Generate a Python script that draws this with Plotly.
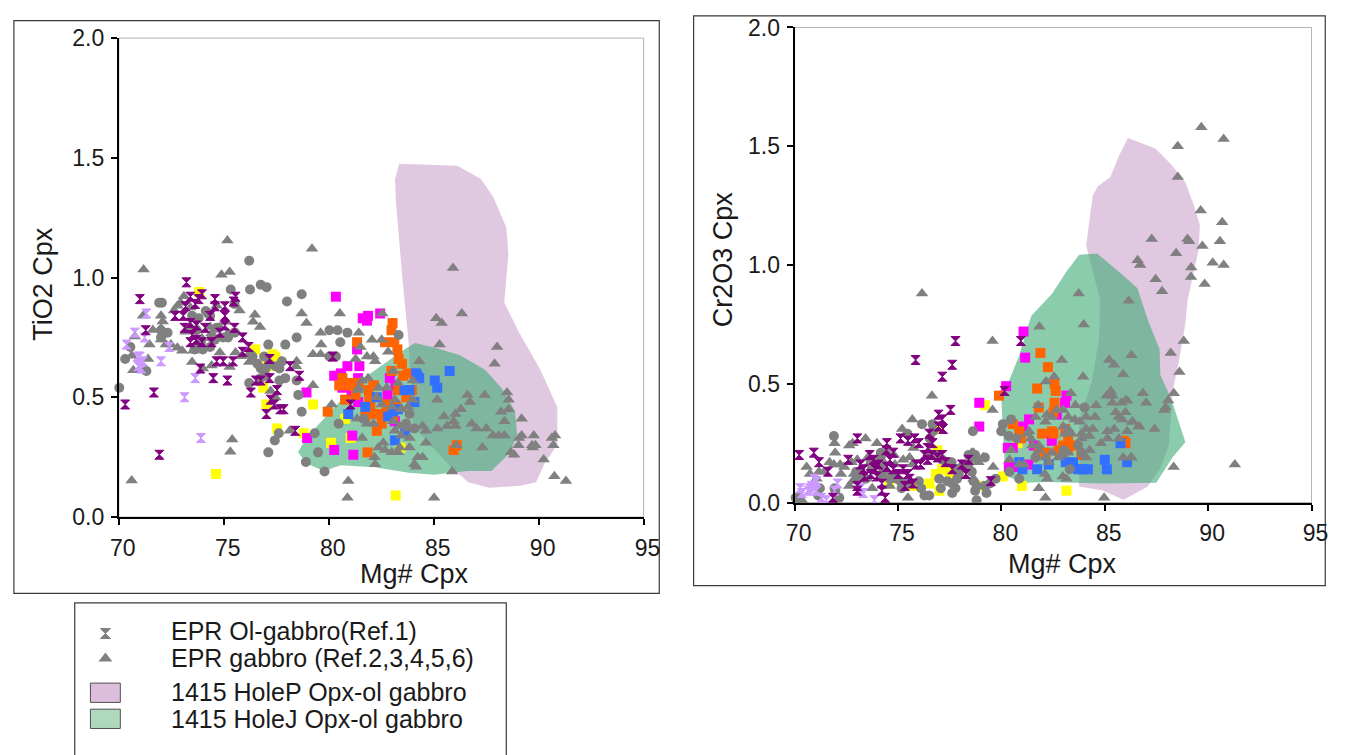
import plotly.graph_objects as go

W, H = 1356, 755

# ---------------- TiO2 vs Mg# (left panel) ----------------
tio2_gabbro = [
    (75.17, 1.155), (71.18, 1.034), (74.89, 1.012), (75.28, 1.023), (73.10, 0.922), (72.94, 0.895),
    (72.79, 0.882), (73.41, 0.875), (72.63, 0.862), (71.15, 0.841), (72.01, 0.841), (72.09, 0.817),
    (71.62, 0.781), (72.01, 0.788), (71.46, 0.720), (72.01, 0.741), (72.24, 0.720), (72.48, 0.720),
    (72.79, 0.707), (73.02, 0.694), (70.76, 0.754), (70.61, 0.673), (71.39, 0.660), (70.69, 0.613),
    (73.41, 0.794), (73.18, 0.774), (73.72, 0.788), (73.96, 0.747), (74.35, 0.794), (74.42, 0.767),
    (74.66, 0.882), (74.81, 0.794), (75.12, 0.815), (75.20, 0.767), (75.62, 0.770), (75.75, 0.862),
    (73.54, 0.694), (73.49, 0.647), (74.00, 0.620), (74.42, 0.633), (74.81, 0.687), (75.28, 0.626),
    (75.56, 0.687), (75.83, 0.671), (76.21, 0.647), (76.48, 0.845), (76.40, 0.815), (76.73, 0.794),
    (77.23, 0.526), (77.46, 0.499), (75.40, 0.324), (75.31, 0.273), (70.61, 0.152), (77.73, 0.650),
    (78.14, 0.360),
    (79.20, 1.12), (78.71, 0.85), (78.94, 0.81), (80.53, 0.85), (79.61, 0.77), (79.64, 0.72),
    (79.25, 0.68), (79.61, 0.68), (78.47, 0.65), (78.44, 0.63), (79.25, 0.55), (80.14, 0.47),
    (81.43, 0.77), (82.06, 0.74), (82.52, 0.74), (81.51, 0.71), (81.28, 0.66), (81.82, 0.67),
    (82.13, 0.67), (82.21, 0.65), (82.83, 0.69), (84.31, 0.65), (85.12, 0.83), (85.28, 0.72),
    (85.17, 0.49), (81.87, 0.58), (81.59, 0.57), (82.37, 0.54), (82.76, 0.54), (83.07, 0.61),
    (83.30, 0.56), (84.00, 0.57), (84.00, 0.49), (81.43, 0.54), (81.40, 0.53), (82.29, 0.50),
    (83.15, 0.49), (82.52, 0.47), (83.00, 0.46), (83.46, 0.45), (83.77, 0.46), (81.35, 0.41),
    (81.82, 0.39), (82.13, 0.39), (83.07, 0.40), (83.38, 0.38), (83.77, 0.37), (83.15, 0.36),
    (83.46, 0.34), (83.85, 0.33), (84.47, 0.38), (84.63, 0.36), (85.17, 0.37), (81.59, 0.33),
    (82.37, 0.29), (82.60, 0.31), (82.68, 0.28), (83.38, 0.29), (83.30, 0.27), (83.85, 0.29),
    (84.24, 0.25), (84.47, 0.25), (84.08, 0.22), (84.16, 0.21), (82.18, 0.25), (82.21, 0.22),
    (83.00, 0.27), (80.93, 0.15), (80.89, 0.08), (85.02, 0.08), (84.63, 0.31), (82.55, 0.85),
    (85.92, 1.04), (86.34, 0.85), (85.38, 0.81), (88.02, 0.71), (87.90, 0.64), (86.61, 0.51),
    (86.73, 0.48), (87.43, 0.51), (88.49, 0.52), (88.57, 0.49), (88.21, 0.44), (88.57, 0.45),
    (88.37, 0.40), (89.19, 0.41), (86.30, 0.45), (86.03, 0.43), (85.49, 0.42), (85.95, 0.40),
    (85.64, 0.38), (86.03, 0.38), (86.81, 0.39), (87.04, 0.37), (87.51, 0.37), (87.82, 0.34),
    (88.10, 0.34), (88.37, 0.34), (89.07, 0.33), (89.19, 0.34), (89.77, 0.34), (87.32, 0.29),
    (89.04, 0.30), (89.69, 0.30), (89.85, 0.30), (89.72, 0.29), (88.68, 0.27), (88.83, 0.26),
    (90.63, 0.33), (90.78, 0.34), (90.70, 0.30), (90.24, 0.24), (90.75, 0.17), (91.30, 0.15),
    (85.88, 0.19), (86.08, 0.30),
]
tio2_circle = [
    (76.21, 1.07), (76.76, 0.97), (77.04, 0.96), (76.25, 0.95), (75.33, 0.95), (78.01, 0.90),
    (71.92, 0.895), (72.05, 0.895), (75.51, 0.89), (74.24, 0.85), (72.32, 0.77), (72.01, 0.78),
    (72.01, 0.75), (75.51, 0.77), (75.20, 0.75), (74.42, 0.75), (74.66, 0.79), (73.69, 0.78),
    (73.80, 0.83), (73.49, 0.84), (74.14, 0.86), (74.35, 0.84), (73.91, 0.73), (73.61, 0.70),
    (74.00, 0.70), (74.35, 0.71), (74.58, 0.74), (74.97, 0.75), (70.55, 0.71), (70.30, 0.66),
    (71.31, 0.61), (70.02, 0.54), (76.26, 0.68), (76.37, 0.67), (76.92, 0.67), (77.12, 0.72),
    (77.93, 0.72), (76.60, 0.64), (76.76, 0.62), (76.99, 0.62), (77.15, 0.64), (77.46, 0.63),
    (77.65, 0.62), (77.77, 0.65), (76.21, 0.56), (76.76, 0.58), (76.99, 0.59), (77.65, 0.57),
    (77.93, 0.58), (77.62, 0.35), (77.43, 0.32), (77.12, 0.27),
    (78.71, 0.93), (80.03, 0.78), (80.42, 0.78), (80.89, 0.77), (80.55, 0.73), (83.33, 0.76),
    (78.47, 0.75), (78.47, 0.57), (78.55, 0.51), (78.71, 0.44), (80.03, 0.67), (80.34, 0.67),
    (80.47, 0.39), (79.33, 0.35), (79.49, 0.27), (78.91, 0.23), (79.80, 0.19), (81.67, 0.41),
    (83.85, 0.43), (84.08, 0.37), (83.69, 0.39),
]
tio2_olgabbro = [
    (71.00, 0.91), (73.22, 0.98), (73.96, 0.93), (71.28, 0.78), (70.30, 0.47), (71.67, 0.52),
    (71.93, 0.26), (72.68, 0.84), (73.07, 0.84), (73.13, 0.79), (73.41, 0.81), (73.64, 0.89),
    (73.80, 0.91), (73.41, 0.92), (73.49, 0.76), (73.69, 0.74), (73.41, 0.73), (73.96, 0.73),
    (74.11, 0.79), (74.58, 0.91), (74.58, 0.88), (75.05, 0.88), (75.05, 0.84), (75.05, 0.80),
    (75.56, 0.92), (75.47, 0.90), (75.51, 0.79), (74.42, 0.73), (74.66, 0.65), (74.97, 0.65),
    (74.50, 0.58), (75.17, 0.57), (75.44, 0.65), (75.90, 0.75), (76.18, 0.71), (75.90, 0.69),
    (73.88, 0.62), (77.18, 0.66), (76.53, 0.57), (76.76, 0.57), (77.18, 0.58), (77.23, 0.49),
    (77.54, 0.53), (77.03, 0.43), (76.29, 0.52), (77.69, 0.45), (77.85, 0.45), (74.35, 0.84),
    (74.81, 0.77), (73.69, 0.80), (73.18, 0.88), (78.16, 0.63), (78.60, 0.59), (81.04, 0.47),
    (78.40, 0.36), (77.40, 0.47), (80.19, 0.67),
]
tio2_olgabbro_light = [
    (71.31, 0.85), (70.76, 0.77), (70.37, 0.72), (71.23, 0.75), (71.00, 0.67), (71.15, 0.65),
    (70.92, 0.63), (71.07, 0.62), (70.89, 0.67), (72.01, 0.65), (73.13, 0.50), (73.64, 0.58),
    (73.91, 0.33), (72.40, 0.71),
]
tio2_yellow = [
    (73.83, 0.94), (76.50, 0.70), (77.31, 0.68), (77.46, 0.67), (77.07, 0.65), (76.88, 0.54),
    (77.03, 0.47), (77.54, 0.37), (74.63, 0.18), (79.25, 0.47), (80.78, 0.41), (80.11, 0.31),
    (78.81, 0.35), (81.04, 0.33), (83.19, 0.09), (83.42, 0.29), (77.33, 0.63),
]
tio2_magenta = [
    (80.34, 0.92), (81.62, 0.83), (81.87, 0.84), (81.82, 0.82), (82.45, 0.85), (81.35, 0.70),
    (80.89, 0.63), (81.46, 0.63), (80.26, 0.59), (80.58, 0.60), (80.65, 0.54), (81.09, 0.52),
    (81.40, 0.58), (81.40, 0.48), (78.94, 0.52), (82.91, 0.58), (82.80, 0.51), (83.18, 0.55),
    (81.12, 0.34), (80.26, 0.28), (81.17, 0.26), (78.97, 0.33), (83.15, 0.40),
]
tio2_orange = [
    (83.04, 0.81), (82.99, 0.78), (82.68, 0.73), (83.12, 0.73), (83.27, 0.70), (83.33, 0.66),
    (83.49, 0.64), (83.77, 0.60), (83.54, 0.59), (83.96, 0.53), (83.69, 0.50), (83.30, 0.53),
    (82.99, 0.61), (82.13, 0.55), (81.93, 0.50), (80.78, 0.49), (80.50, 0.55), (81.04, 0.56),
    (79.95, 0.44), (81.35, 0.73), (82.06, 0.43), (82.37, 0.43), (82.60, 0.43), (81.74, 0.42),
    (82.52, 0.39), (82.29, 0.36), (81.85, 0.27), (83.07, 0.42), (83.22, 0.46), (85.95, 0.28),
    (86.10, 0.30), (80.65, 0.58), (81.43, 0.56), (81.28, 0.51), (81.90, 0.53), (81.98, 0.47),
    (82.76, 0.47), (82.14, 0.55), (80.97, 0.55),
]
tio2_blue = [
    (84.16, 0.60), (84.31, 0.58), (85.05, 0.57), (85.17, 0.54), (85.76, 0.61), (81.74, 0.46),
    (80.93, 0.43), (82.29, 0.50), (83.61, 0.53), (84.08, 0.48), (82.83, 0.42), (83.15, 0.32),
    (83.64, 0.35), (83.30, 0.45), (84.22, 0.59), (83.07, 0.44), (83.85, 0.53),
]
tio2_holeP = [
    (83.36, 1.475), (86.13, 1.467), (87.25, 1.412), (87.85, 1.334), (88.46, 1.209), (88.56, 1.099),
    (88.36, 0.896), (89.07, 0.771), (90.08, 0.615), (90.89, 0.458), (90.89, 0.302), (90.28, 0.224),
    (89.88, 0.145), (89.07, 0.130), (87.65, 0.122), (86.64, 0.145), (85.83, 0.208), (84.82, 0.302),
    (84.01, 0.380), (83.81, 0.724), (83.50, 1.005), (83.20, 1.318), (83.16, 1.412),
]
tio2_holeJ = [
    (84.11, 0.727), (85.02, 0.708), (86.23, 0.677), (87.45, 0.615), (88.26, 0.536), (88.87, 0.443),
    (88.97, 0.349), (88.66, 0.271), (87.75, 0.192), (86.64, 0.192), (85.83, 0.185), (85.02, 0.177),
    (83.81, 0.185), (82.19, 0.208), (80.57, 0.216), (79.76, 0.192), (78.95, 0.224), (78.54, 0.271),
    (78.95, 0.333), (79.76, 0.411), (80.77, 0.505), (81.98, 0.599), (83.00, 0.661), (83.60, 0.700),
]

# ---------------- Cr2O3 vs Mg# (right panel) ----------------
cr2o3_gabbro = [
    (76.64, 0.45), (75.69, 0.35), (75.20, 0.31), (73.43, 0.27), (72.80, 0.25), (72.64, 0.24),
    (71.93, 0.25), (71.96, 0.21), (70.58, 0.15), (71.18, 0.13), (71.42, 0.13), (70.74, 0.12),
    (71.06, 0.10), (71.69, 0.17), (71.90, 0.16), (72.20, 0.16), (72.40, 0.15), (72.75, 0.17),
    (73.03, 0.18), (73.54, 0.19), (73.59, 0.16), (73.98, 0.25), (74.49, 0.21), (74.80, 0.20),
    (74.85, 0.16), (75.25, 0.18), (75.56, 0.19), (75.69, 0.16), (72.87, 0.12), (72.80, 0.09),
    (73.51, 0.10), (72.64, 0.07), (73.75, 0.06), (74.50, 0.13), (74.60, 0.07), (75.48, 0.02),
    (70.35, 0.01), (78.57, 0.21), (78.65, 0.18), (79.12, 0.19), (78.09, 0.16), (76.51, 0.21),
    (75.75, 0.23), (74.85, 0.12), (72.24, 0.12), (76.16, 0.88),
    (83.74, 0.88), (81.84, 0.74), (83.98, 0.75), (79.57, 0.68), (82.92, 0.60), (85.21, 0.60),
    (85.45, 0.58), (85.89, 0.54), (83.95, 0.53), (82.16, 0.51), (82.55, 0.53), (85.10, 0.45),
    (85.29, 0.47), (85.37, 0.45), (85.37, 0.42), (85.81, 0.42), (86.00, 0.43), (84.58, 0.41),
    (83.58, 0.41), (83.36, 0.46), (81.78, 0.41), (79.57, 0.39), (82.20, 0.37), (82.44, 0.36),
    (82.68, 0.39), (82.99, 0.39), (83.23, 0.36), (83.55, 0.35), (83.79, 0.34), (84.10, 0.36),
    (84.53, 0.36), (85.53, 0.38), (85.68, 0.36), (86.00, 0.38), (85.84, 0.35), (86.32, 0.34),
    (86.63, 0.32), (82.13, 0.34), (81.65, 0.36), (81.34, 0.30), (81.26, 0.29), (83.23, 0.31),
    (82.99, 0.32), (83.08, 0.29), (83.39, 0.29), (83.87, 0.29), (84.10, 0.31), (84.42, 0.31),
    (85.13, 0.30), (85.45, 0.31), (86.08, 0.30), (84.26, 0.28), (83.87, 0.27), (84.81, 0.25),
    (85.13, 0.27), (85.68, 0.27), (81.42, 0.27), (81.81, 0.24), (81.49, 0.24), (81.81, 0.22),
    (82.44, 0.21), (82.13, 0.19), (82.76, 0.19), (82.99, 0.20), (82.29, 0.17), (83.23, 0.21),
    (84.26, 0.22), (84.10, 0.19), (85.89, 0.19), (86.27, 0.19), (82.10, 0.12), (82.21, 0.10),
    (82.97, 0.11), (83.15, 0.10), (81.81, 0.06), (82.13, 0.02), (84.97, 0.02), (80.47, 0.22),
    (80.39, 0.18), (78.65, 0.21), (78.89, 0.17), (79.60, 0.15), (80.86, 0.16), (81.10, 0.16),
    (78.65, 0.10), (79.12, 0.07),
    (89.67, 1.58), (90.75, 1.53), (88.53, 1.50), (88.53, 1.37), (89.64, 1.23), (90.68, 1.18),
    (87.27, 1.11), (89.00, 1.11), (89.08, 1.10), (90.57, 1.10), (89.72, 1.08), (88.45, 1.05),
    (90.22, 1.01), (90.75, 1.00), (89.18, 0.99), (89.17, 0.95), (89.83, 0.92), (86.59, 1.02),
    (86.71, 1.00), (87.46, 0.94), (87.77, 0.89), (86.16, 0.85), (88.82, 0.68), (88.19, 0.63),
    (86.29, 0.62), (88.61, 0.55), (88.34, 0.46), (88.06, 0.43), (86.84, 0.46), (87.00, 0.42),
    (87.95, 0.40), (87.87, 0.39), (86.35, 0.34), (86.67, 0.32), (87.41, 0.31), (86.08, 0.43),
    (86.29, 0.19), (88.33, 0.15), (91.29, 0.16),
]
cr2o3_circle = [
    (71.90, 0.28), (74.17, 0.21), (75.45, 0.29), (76.16, 0.33), (76.67, 0.33), (76.70, 0.30),
    (76.54, 0.27), (78.62, 0.30), (78.41, 0.20), (78.73, 0.20), (79.20, 0.19), (76.94, 0.20),
    (77.14, 0.18), (77.59, 0.17), (73.19, 0.13), (73.74, 0.14), (73.67, 0.18), (74.17, 0.19),
    (74.30, 0.16), (73.03, 0.10), (73.43, 0.10), (74.22, 0.12), (74.60, 0.10), (74.93, 0.10),
    (75.12, 0.09), (75.17, 0.06), (75.44, 0.08), (76.01, 0.09), (76.12, 0.06), (76.28, 0.03),
    (76.51, 0.03), (76.99, 0.10), (77.07, 0.06), (77.38, 0.09), (77.62, 0.04), (77.78, 0.06),
    (77.86, 0.10), (77.62, 0.08), (77.94, 0.12), (77.90, 0.14), (78.41, 0.16), (78.57, 0.13),
    (78.73, 0.05), (78.80, 0.01), (71.14, 0.03), (71.22, 0.06), (71.93, 0.06), (72.16, 0.02),
    (70.19, 0.02), (72.98, 0.13), (71.97, 0.05), (70.05, 0.02),
    (80.07, 0.33), (80.47, 0.35), (79.99, 0.30), (80.36, 0.28), (84.02, 0.40), (83.71, 0.24),
    (83.87, 0.21), (83.31, 0.14), (81.65, 0.19), (80.86, 0.10), (80.39, 0.13), (79.72, 0.10),
    (79.44, 0.08), (79.20, 0.07), (79.28, 0.04), (78.81, 0.07), (78.65, 0.09), (80.74, 0.27),
    (83.01, 0.22),
]
cr2o3_olgabbro = [
    (77.78, 0.68), (75.85, 0.60), (77.62, 0.58), (77.14, 0.53), (77.54, 0.39), (76.96, 0.37),
    (77.14, 0.35), (76.96, 0.32), (77.18, 0.31), (70.22, 0.20), (70.93, 0.21), (71.18, 0.17),
    (71.61, 0.13), (72.59, 0.18), (74.46, 0.25), (74.43, 0.22), (74.77, 0.21), (75.12, 0.27),
    (75.48, 0.26), (75.80, 0.27), (76.01, 0.25), (76.51, 0.29), (76.67, 0.25), (75.88, 0.16),
    (76.09, 0.16), (76.43, 0.18), (76.91, 0.19), (77.14, 0.20), (77.30, 0.17), (77.62, 0.14),
    (78.09, 0.16), (78.41, 0.18), (78.28, 0.12), (79.49, 0.09), (73.63, 0.20), (73.82, 0.18),
    (73.90, 0.14), (73.67, 0.12), (73.98, 0.11), (73.19, 0.16), (73.32, 0.14), (73.38, 0.11),
    (73.03, 0.07), (73.03, 0.05), (74.22, 0.08), (74.22, 0.05), (74.38, 0.02), (74.77, 0.14),
    (75.01, 0.12), (75.25, 0.14), (75.48, 0.12), (75.56, 0.10), (75.72, 0.08), (75.33, 0.07),
    (74.61, 0.18), (74.46, 0.15), (74.06, 0.16), (71.85, 0.02), (73.03, 0.27), (76.43, 0.23),
    (76.28, 0.20), (76.64, 0.20), (80.94, 0.68), (80.15, 0.47),
]
cr2o3_olgabbro_light = [
    (70.35, 0.04), (70.66, 0.05), (70.82, 0.07), (71.06, 0.09), (70.95, 0.10), (70.74, 0.06),
    (70.27, 0.06), (71.06, 0.05), (72.08, 0.08), (71.93, 0.05), (73.19, 0.06), (73.32, 0.04),
    (73.86, 0.01), (71.29, 0.02), (71.53, 0.01),
]
cr2o3_yellow = [
    (76.96, 0.31), (76.91, 0.22), (77.14, 0.14), (77.38, 0.14), (77.49, 0.12), (76.83, 0.12),
    (76.51, 0.08), (75.72, 0.07), (74.58, 0.08), (77.00, 0.05), (79.20, 0.41), (80.07, 0.11),
    (80.99, 0.07), (83.15, 0.05), (80.78, 0.25), (78.82, 0.07),
]
cr2o3_magenta = [
    (81.07, 0.72), (81.15, 0.61), (80.23, 0.49), (78.93, 0.42), (78.93, 0.32), (83.15, 0.45),
    (83.08, 0.42), (81.34, 0.35), (81.05, 0.32), (81.57, 0.24), (82.44, 0.26), (82.68, 0.37),
    (80.31, 0.23), (80.55, 0.23), (82.84, 0.21), (80.36, 0.15), (80.62, 0.15), (81.30, 0.16),
]
cr2o3_orange = [
    (81.89, 0.63), (82.25, 0.57), (81.73, 0.48), (82.63, 0.47), (82.57, 0.50), (79.88, 0.45),
    (81.81, 0.40), (82.57, 0.42), (82.52, 0.38), (83.08, 0.31), (82.44, 0.30), (82.52, 0.29),
    (81.97, 0.29), (80.94, 0.27), (80.55, 0.33), (81.81, 0.22), (82.13, 0.21), (82.76, 0.22),
    (82.99, 0.24), (83.23, 0.23), (83.55, 0.24), (83.87, 0.20), (83.23, 0.27), (86.00, 0.25),
    (85.92, 0.26), (82.13, 0.20), (80.86, 0.30),
]
cr2o3_blue = [
    (80.86, 0.17), (81.02, 0.14), (81.73, 0.14), (83.11, 0.17), (83.47, 0.17), (83.71, 0.14),
    (83.95, 0.14), (84.18, 0.14), (85.00, 0.18), (85.10, 0.14), (86.08, 0.17), (82.29, 0.16),
    (85.76, 0.25),
]
cr2o3_holeP = [
    (86.12, 1.535), (87.45, 1.491), (88.19, 1.425), (88.90, 1.347), (89.30, 1.254), (89.60, 1.168),
    (89.54, 1.066), (89.30, 0.973), (89.00, 0.848), (88.90, 0.754), (88.59, 0.598), (88.29, 0.473),
    (88.19, 0.348), (88.09, 0.239), (87.69, 0.145), (87.08, 0.067), (85.91, 0.012), (84.87, 0.052),
    (83.76, 0.067), (83.76, 0.348), (84.36, 0.504), (84.73, 0.692), (84.77, 0.856), (84.42, 0.973),
    (84.10, 1.082), (84.26, 1.191), (84.42, 1.293), (84.67, 1.332), (85.27, 1.371), (85.67, 1.457),
]
cr2o3_holeJ = [
    (83.76, 1.043), (84.63, 1.048), (85.67, 0.973), (86.58, 0.902), (87.08, 0.770), (87.65, 0.645),
    (87.69, 0.536), (88.19, 0.442), (88.90, 0.254), (88.29, 0.192), (87.49, 0.083), (84.87, 0.080),
    (82.25, 0.086), (81.04, 0.083), (80.19, 0.114), (80.03, 0.348), (79.99, 0.442), (80.33, 0.504),
    (80.84, 0.614), (81.44, 0.785), (82.45, 0.879), (83.15, 0.973),
]

x_ticks = [70, 75, 80, 85, 90, 95]
y_ticks = [0.0, 0.5, 1.0, 1.5, 2.0]

legend_labels = [
    "EPR Ol-gabbro(Ref.1)",
    "EPR gabbro (Ref.2,3,4,5,6)",
    "1415 HoleP Opx-ol gabbro",
    "1415 HoleJ Opx-ol gabbro",
]

FONT = "Liberation Sans, Arial, Helvetica, sans-serif"
INK = "#1a1a1a"
GREY = "#808080"
PINK = "#e0c8e0"
GREEN = "rgba(60,170,115,0.6)"

styles = [
    # (series, symbol, size, colour)
    ("yellow", "square", 10, "#ffff00"),
    ("magenta", "square", 10, "#ff00ff"),
    ("orange", "square", 10, "#ff6400"),
    ("blue", "square", 10, "#3270ff"),
    ("circle", "circle", 10, GREY),
    ("gabbro", "triangle-up", 11, GREY),
    ("olgabbro_light", "hourglass", 9, "#cc99ff"),
    ("olgabbro", "hourglass", 9, "#800080"),
]

panels = [
    dict(xa="x", ya="y", holeP=tio2_holeP, holeJ=tio2_holeJ,
         series=dict(yellow=tio2_yellow, magenta=tio2_magenta, orange=tio2_orange,
                     blue=tio2_blue, circle=tio2_circle, gabbro=tio2_gabbro,
                     olgabbro_light=tio2_olgabbro_light, olgabbro=tio2_olgabbro)),
    dict(xa="x2", ya="y2", holeP=cr2o3_holeP, holeJ=cr2o3_holeJ,
         series=dict(yellow=cr2o3_yellow, magenta=cr2o3_magenta, orange=cr2o3_orange,
                     blue=cr2o3_blue, circle=cr2o3_circle, gabbro=cr2o3_gabbro,
                     olgabbro_light=cr2o3_olgabbro_light, olgabbro=cr2o3_olgabbro)),
]

fig = go.Figure()


def unzip(pairs):
    return [p[0] for p in pairs], [p[1] for p in pairs]


for p in panels:
    for poly, col in ((p["holeP"], PINK), (p["holeJ"], GREEN)):
        xs, ys = unzip(poly)
        fig.add_trace(go.Scatter(x=xs + xs[:1], y=ys + ys[:1], xaxis=p["xa"], yaxis=p["ya"],
                                 mode="lines", fill="toself", fillcolor=col,
                                 line=dict(width=0), hoverinfo="skip", showlegend=False))
    for name, sym, size, col in styles:
        xs, ys = unzip(p["series"][name])
        fig.add_trace(go.Scatter(x=xs, y=ys, xaxis=p["xa"], yaxis=p["ya"], mode="markers",
                                 marker=dict(symbol=sym, size=size, color=col,
                                             line=dict(width=1 if sym == "hourglass" else 0, color=col)),
                                 cliponaxis=False, showlegend=False, name=name))

# legend symbols, drawn on a small helper axis inside the legend box
fig.add_trace(go.Scatter(x=[0.071], y=[0.78], xaxis="x3", yaxis="y3", mode="markers",
                         marker=dict(symbol="hourglass", size=10, color=GREY, line=dict(width=1, color=GREY)),
                         showlegend=False, hoverinfo="skip"))
fig.add_trace(go.Scatter(x=[0.071], y=[0.60], xaxis="x3", yaxis="y3", mode="markers",
                         marker=dict(symbol="triangle-up", size=12, color=GREY),
                         showlegend=False, hoverinfo="skip"))


def px(v):
    return v / W


def py(v):
    return 1 - v / H


def axis(domain, vals, fmt, anchor, standoff):
    return dict(domain=domain, anchor=anchor, range=[vals[0], vals[-1]], tickvals=vals,
                tickformat=fmt, showline=True, linecolor="black", linewidth=2,
                ticks="outside", ticklen=6, tickwidth=2, tickcolor="black",
                ticklabelstandoff=standoff, showgrid=False, zeroline=False,
                tickfont=dict(family=FONT, size=23, color=INK))


xa1 = axis([px(112), px(647)], x_ticks, "d", "y", 3)
ya1 = axis([py(522), py(26)], y_ticks, ".1f", "x", 2)
xa2 = axis([px(801), px(1328)], x_ticks, "d", "y2", 3)
ya2 = axis([py(507), py(15)], y_ticks, ".1f", "x2", 2)
for a in (xa1, xa2):
    a["ticklabelshift"] = 4

shapes = []
# outer frames around each panel and the key
for x0, y0, x1, y1 in ((5, 8, 663, 601), (698, 3, 1342, 593), (67, 611, 507, 770)):
    shapes.append(dict(type="rect", xref="paper", yref="paper", x0=px(x0), x1=px(x1),
                       y0=py(y1), y1=py(y0), line=dict(color="#3a3a3a", width=1.2),
                       fillcolor="rgba(0,0,0,0)", layer="below"))
# light plot-area borders (top and right edges)
for xr, yr in (("x domain", "y domain"), ("x2 domain", "y2 domain")):
    shapes.append(dict(type="rect", xref=xr, yref=yr, x0=0, x1=1, y0=0, y1=1,
                       line=dict(color="#b4b4b4", width=1), layer="below"))
# key swatches for the two fields
for (y0, y1), col in (((694, 714), "#dcbedc"), ((721, 741), "#b0d8bc")):
    shapes.append(dict(type="rect", xref="paper", yref="paper", x0=px(83), x1=px(113.5),
                       y0=py(y1), y1=py(y0), line=dict(color="#505050", width=1), fillcolor=col))

annotations = []
for txt, x, y, ang in (("Mg# Cpx", 413, 581, 0), ("TiO2 Cpx", 35, 280, -90),
                       ("Mg# Cpx", 1074, 571, 0), ("Cr2O3 Cpx", 728, 255, -90)):
    annotations.append(dict(text=txt, x=px(x), y=py(y), xref="paper", yref="paper",
                            showarrow=False, textangle=ang, xanchor="center", yanchor="middle",
                            font=dict(family=FONT, size=27, color=INK)))
for txt, y in zip(legend_labels, (640, 668, 703, 731)):
    annotations.append(dict(text=txt, x=px(163), y=py(y), xref="paper", yref="paper",
                            showarrow=False, xanchor="left", yanchor="middle",
                            font=dict(family=FONT, size=25, color=INK)))

fig.update_layout(
    width=W, height=H, margin=dict(l=0, r=0, t=0, b=0),
    paper_bgcolor="white", plot_bgcolor="white",
    xaxis=xa1, yaxis=ya1, xaxis2=xa2, yaxis2=ya2,
    xaxis3=dict(domain=[px(67), px(508)], range=[0, 1], visible=False, anchor="y3"),
    yaxis3=dict(domain=[0, py(611)], range=[0, 1], visible=False, anchor="x3"),
    shapes=shapes, annotations=annotations, showlegend=False,
    font=dict(family=FONT),
)

fig.write_html("out.html")
